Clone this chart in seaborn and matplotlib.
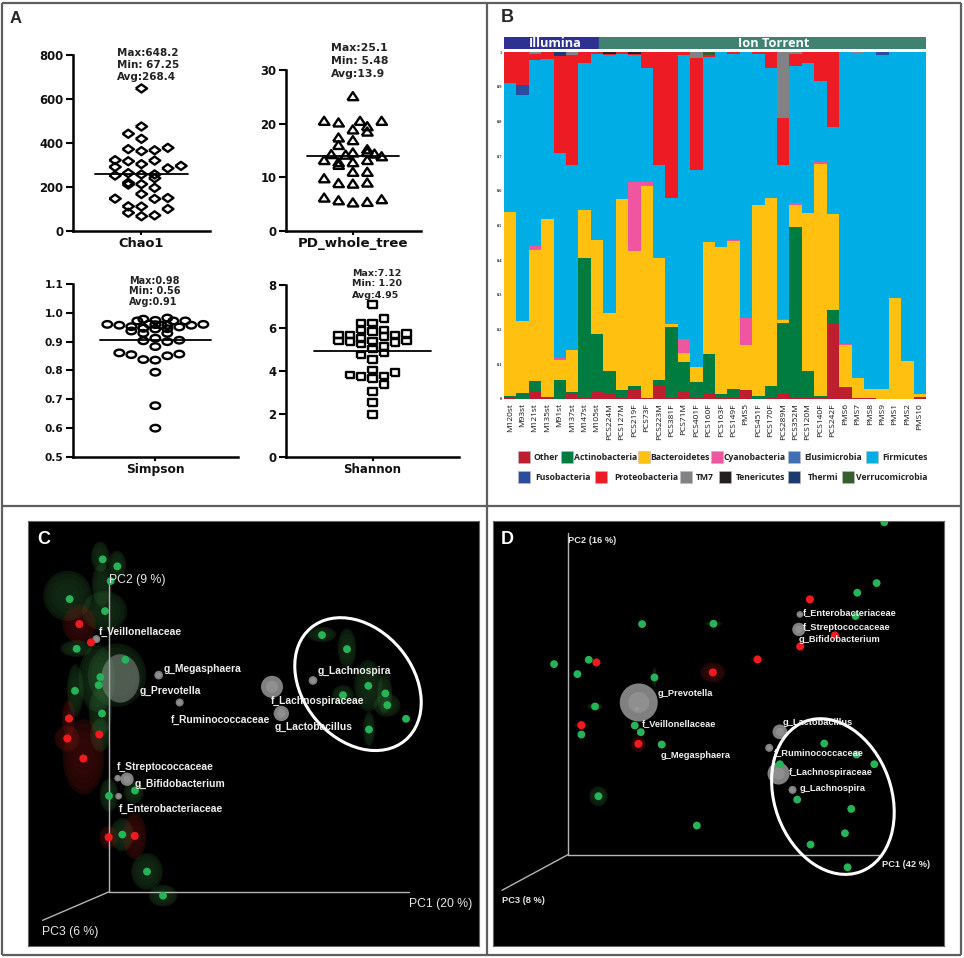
import matplotlib
matplotlib.use('agg')
import numpy as np
import pandas as pd
import matplotlib.pyplot as plt
import seaborn as sns
from matplotlib.patches import Ellipse, Rectangle
from matplotlib.path import Path

W, H = 964, 958

# panel A, diversity indices: column slot and value of each sample
chao_x = [0,0,-1,0,-1,0,1,2,-2,-1,1,0,-2,3,2,-2,-1,0,1,1,-1,-1,0,1,0,-2,1,2,-1,0,2,-1,1,0]
chao_y = [648,475,442,419,372,363,367,378,322,317,320,304,291,296,285,252,263,257,257,240,219,211,213,196,168,147,146,150,112,111,100,83,71,67]
pd_x = [0,-2,-1,.5,2,1,0,1,-1,0,-1,1,-1.5,-.5,0,1,1.5,2,-2,-1,-1,0,1,0,1,-2,-1,0,1,-2,-1,0,1,2]
pd_y = [25.1,20.5,20.2,20.5,20.5,19.5,18.9,18.5,17.4,16.9,16,15.2,14.3,14.2,14.6,14.7,14.4,13.9,13.2,12.8,12.3,12.8,13.2,11,11,9.8,8.9,8.8,9,6.2,5.7,5.3,5.4,5.9]
simpson_x = [1,-1,0,-1.5,1.5,2.5,-4,-3,-2,-1,0,1,3,4,2,-.5,.5,-2,-1,1,-1,0,1,0,-1,1,2,0,-3,-2,-1,0,1,2,0,0,0]
simpson_y = [.982,.978,.974,.972,.972,.972,.960,.957,.952,.947,.959,.957,.957,.960,.951,.961,.957,.937,.929,.929,.947,.944,.945,.912,.903,.900,.905,.883,.861,.855,.838,.836,.851,.857,.794,.678,.600]
shannon_x = [0,1,-1,0,-1,0,1,-3,-2,2,3,1,-3,-2,-1,-1,0,2,3,1,0,1,-1,0,0,-2,-1,0,1,2,1,0,0,0]
shannon_y = [7.10,6.44,6.24,6.23,5.90,5.85,5.90,5.68,5.67,5.68,5.73,5.59,5.40,5.36,5.51,5.25,5.39,5.34,5.40,5.14,5.03,4.83,4.74,4.55,4.04,3.82,3.74,3.65,3.77,3.93,3.37,3.06,2.52,1.99]
index_names = ['Chao1', 'PD_whole_tree', 'Simpson', 'Shannon']
index_means = [261, 13.9, .907, 4.94]
index_stats = [['Max:648.2', 'Min: 67.25', 'Avg:268.4'],
               ['Max:25.1', 'Min: 5.48', 'Avg:13.9'],
               ['Max:0.98', 'Min: 0.56', 'Avg:0.91'],
               ['Max:7.12', 'Min: 1.20', 'Avg:4.95']]

# panel B, relative abundance per sample
samples = ['M120st','M93st','M121st','M135st','M91st','M137st','M147st','M105st','PCS224M','PCS127M',
           'PCS219F','PCS73F','PCS223M','PCS381F','PCS71M','PCS401F','PCS160F','PCS163F','PCS149F','PMS5',
           'PCS451F','PCS170F','PCS289M','PCS352M','PCS120M','PCS140F','PCS242F','PMS6','PMS7','PMS8',
           'PMS9','PMS1','PMS2','PMS10']
other = [.005,0,.023,.005,0,.015,.005,.02,.018,.005,.028,.003,.04,.003,.022,.003,.018,.003,.005,.025,0,.003,.015,.005,.007,.003,.217,.035,.003,.002,0,0,0,.005]
actino = [.005,.018,.03,0,.055,.005,.401,.167,.062,.022,.009,0,.015,.204,.085,.047,.112,.012,.025,0,.008,.034,.205,.492,.073,.005,.04,0,0,0,0,0,0,0]
bacteroid = [.53,.206,.375,.515,.058,.12,.139,.27,.168,.548,.389,.612,.35,.008,.026,.043,.323,.422,.425,.132,.552,.543,.008,.063,.455,.669,.277,.12,.057,.028,.028,.29,.11,.01]
cyano = [0,0,.012,0,.005,0,0,0,0,0,.199,.01,0,0,.039,0,0,0,.003,.077,0,0,.002,.005,0,.005,0,.003,0,0,0,0,0,0]
elusi = [0]*34
firmi = [.371,.652,.537,.46,.592,.533,.422,.536,.742,.42,.365,.33,.268,.365,.818,.567,.532,.563,.537,.766,.435,.373,.445,.395,.433,.233,.249,.842,.935,.97,.962,.71,.89,.985]
fuso = [0,.03,0,0,0,0,0,0,0,0,0,0,0,0,0,0,0,0,0,0,0,0,0,0,0,0,0,0,0,0,.01,0,0,0]
proteo = [.089,.094,.018,.02,.278,.317,.033,.007,.005,.005,.003,.045,.327,.42,.01,.323,.005,0,.005,0,.005,.047,.135,.035,.032,.085,.217,0,0,0,0,0,0,0]
tm7 = [0,0,.005,0,0,.01,0,0,0,0,0,0,0,0,0,.017,0,0,0,0,0,0,.19,.005,0,0,0,0,.005,0,0,0,0,0]
teneri = [0,0,0,0,0,0,0,0,.005,0,.007,0,0,0,0,0,0,0,0,0,0,0,0,0,0,0,0,0,0,0,0,0,0,0]
thermi = [0,0,0,0,.012,0,0,0,0,0,0,0,0,0,0,0,0,0,0,0,0,0,0,0,0,0,0,0,0,0,0,0,0,0]
verruco = [0,0,0,0,0,0,0,0,0,0,0,0,0,0,0,0,.01,0,0,0,0,0,0,0,0,0,0,0,0,0,0,0,0,0]
taxa = ['Other','Actinobacteria','Bacteroidetes','Cyanobacteria','Elusimicrobia','Firmicutes',
        'Fusobacteria','Proteobacteria','TM7','Tenericutes','Thermi','Verrucomicrobia']
taxa_shares = [other, actino, bacteroid, cyano, elusi, firmi, fuso, proteo, tm7, teneri, thermi, verruco]
taxa_colors = ['#be1e2d','#007c41','#ffc00f','#f0559f','#3f6fb5','#00aee6',
               '#2a4da0','#ed1c24','#808285','#231f20','#1b3a6f','#375f2c']
legend_swatch_x = [518,561,638,711,788,866,518,595,680,719,788,842]
legend_text_x = [534,574,650,724,804,882,535,614,696,736,808,856]

# panel C, PCoA screen positions
c_green_x = [307,351,331,208,314,229,375,300,224,295,305,326,404,366,440,488,965,1040,1104,1028,1155,1161,1217,1106]
c_green_y = [163,184,228,282,318,431,464,516,557,540,625,872,856,988,1099,1171,390,432,542,570,565,600,641,673]
c_red_x = [237,272,206,201,249,325,403,297]
c_red_y = [357,412,640,700,760,996,992,688]
c_gray_x = [288,475,538,815,843,938,352,380,355]
c_gray_y = [402,510,592,545,625,526,819,822,873]
c_gray_s = [12,13,12,33,23,13,10,20,10]
c_glow_green = [(300,155,55,90),(350,180,55,85),(305,240,60,130),(202,272,145,150),(313,318,135,120),
                (228,430,95,50),(350,510,175,190),(290,520,110,200),(225,555,50,155),(300,620,70,150),
                (300,690,60,100),(326,870,55,100),(400,860,60,70),(365,988,70,100),(440,1099,95,110),
                (488,1171,85,65),(965,388,85,45),(1040,430,55,120),(1104,542,85,155),(1028,570,65,60),
                (1153,565,45,120),(1160,600,80,70),(1106,672,35,105)]
c_glow_red = [(237,357,100,115),(205,640,40,110),(200,700,75,80),(250,755,125,225),(325,996,55,70),(403,992,70,140)]
c_shell = [(360,520,115,145)]
c_labels = ['f_Veillonellaceae','g_Megasphaera','g_Prevotella','f_Ruminococcaceae','f_Lachnospiraceae',
            'g_Lachnospira','g_Lactobacillus','f_Streptococcaceae','g_Bifidobacterium','f_Enterobacteriaceae']
c_label_x = [295,490,417,513,812,953,824,349,402,355]
c_label_y = [381,491,558,644,588,498,666,784,835,911]
c_axis_labels = ['PC2 (9 %)','PC1 (20 %)','PC3 (6 %)']
c_axis_x = [327,1226,125]
c_axis_y = [225,1196,1280]

# panel D, PCoA screen positions
d_green_x = [1183,1160,1102,1097,457,671,193,297,263,494,316,275,435,453,516,326,621,1003,1100,1153,870,922,1084,1065,962,1073]
d_green_y = [52,234,263,333,357,356,477,464,507,517,604,688,661,681,718,873,961,715,748,777,777,883,911,984,1018,1086]
d_red_x = [960,1035,931,803,320,669,275,446]
d_red_y = [283,391,424,463,472,502,660,716]
d_gray_x = [447,441,930,927,870,838,866,908,514]
d_gray_y = [592,612,328,373,680,728,805,854,718]
d_gray_s = [57,12,10,20,22,12,33,12,10]
d_glow_green = [(326,873,55,60),(671,356,50,14),(316,604,45,20),(494,517,15,60)]
d_glow_red = [(669,502,75,60),(446,716,45,50),(803,463,45,15),(275,660,45,18)]
d_labels = ['g_Prevotella','f_Veillonellaceae','g_Megasphaera','f_Enterobacteriaceae','f_Streptococcaceae',
            'g_Bifidobacterium','g_Lactobacillus','f_Ruminococcaceae','f_Lachnospiraceae','g_Lachnospira']
d_label_x = [503,455,513,940,940,926,877,852,896,930]
d_label_y = [566,655,751,323,366,404,653,742,801,849]
d_axis_labels = ['PC2 (16 %)','PC1 (42 %)','PC3 (8 %)']
d_axis_x = [236,1175,37]
d_axis_y = [106,1078,1185]

sns.set_theme(style='white')
plt.rcParams['font.family'] = ['DejaVu Sans']
plt.rcParams['axes.linewidth'] = 1.8


def px_axes(fig, left, top, right, bottom):
    return fig.add_axes([left / W, 1 - bottom / H, (right - left) / W, (bottom - top) / H])


fig = plt.figure(figsize=(W / 100, H / 100), dpi=100)

# overlay for frame, letters, legend
over = fig.add_axes([0, 0, 1, 1], zorder=5)
over.set_xlim(0, W)
over.set_ylim(H, 0)
over.axis('off')
over.patch.set_alpha(0)
for xs, ys in [((2, 961), (3, 3)), ((2, 961), (506, 506)), ((2, 961), (955, 955)),
               ((2, 2), (3, 955)), ((961, 961), (3, 955)), ((487, 487), (3, 955))]:
    over.plot(xs, ys, color='#5f5f5f', lw=1.6, solid_capstyle='butt')
over.text(10, 18, 'A', fontsize=12, fontweight='bold', va='center', family='Liberation Sans')
over.text(501, 17, 'B', fontsize=13, fontweight='bold', va='center', family='Liberation Sans')

# panel A
ellipse_m = Path.unit_circle().transformed(matplotlib.transforms.Affine2D().scale(1, .68))
diamond_m = [(-1, 0), (0, .72), (1, 0), (0, -.72), (-1, 0)]
tri_m = [(-1, -.72), (0, .78), (1, -.72), (-1, -.72)]
square_m = [(-1, -.8), (1, -.8), (1, .8), (-1, .8), (-1, -.8)]
a_specs = [
    (73, 55, 210, 231, chao_x, chao_y, diamond_m, (-5.19, 5.2), (0, 800), [0, 200, 400, 600, 800], 3.5, 66, '{:.0f}', (117, [53, 65, 77]), 7.5, 9.4),
    (286, 70, 421, 231, pd_x, pd_y, tri_m, (-4.65, 4.74), (0, 30), [0, 10, 20, 30], 3.2, 60, '{:.0f}', (331, [48, 61, 74]), 7.8, 9.6),
    (73, 284, 238, 457, simpson_x, simpson_y, ellipse_m, (-6.86, 6.89), (.5, 1.1), [.5, .6, .7, .8, .9, 1, 1.1], 4.65, 48, '{:.1f}', (129, [281, 291, 302]), 7.0, 8.8),
    (286, 285, 459, 457, shannon_x, shannon_y, square_m, (-7.65, 7.65), (0, 8), [0, 2, 4, 6, 8], 5.15, 36, '{:.0f}', (352, [274, 284, 295]), 6.8, 8.5),
]
for i, (l, t, r, b, xv, yv, mk, xl, yl, yt, half, size, fmt, stat, stat_fs, name_fs) in enumerate(a_specs):
    ax = px_axes(fig, l, t, r, b)
    sns.scatterplot(x=xv, y=yv, marker=mk, s=size, facecolor='none', edgecolor='black', linewidth=1.7,
                    ax=ax, clip_on=False, zorder=3)
    sns.lineplot(x=[-half, half], y=[index_means[i]] * 2, color='black', lw=1.3, ax=ax, errorbar=None)
    ax.set_xlim(*xl)
    ax.set_ylim(*yl)
    ax.set_xticks([0])
    ax.set_xticklabels([index_names[i]], fontsize=name_fs, fontweight='bold')
    ax.set_yticks(yt)
    ax.set_yticklabels([fmt.format(v) for v in yt], fontsize=8.4 if i != 2 else 7.6, fontweight='bold')
    ax.tick_params(axis='y', left=True, length=5, width=1.5, color='black', labelcolor='#111111', pad=2)
    ax.tick_params(axis='x', bottom=True, length=3, width=1.5, color='black', labelcolor='#111111', pad=1)
    ax.patch.set_alpha(0)
    sns.despine(ax=ax)
    for sp in ['left', 'bottom']:
        ax.spines[sp].set_color('black')
    for line, yy in zip(index_stats[i], stat[1]):
        over.text(stat[0], yy, line, fontsize=stat_fs, fontweight='bold', va='center', color='#222222')

# panel B
long_df = pd.DataFrame({
    'sample': samples * len(taxa),
    'taxon': np.repeat(taxa, len(samples)),
    'share': np.concatenate(taxa_shares),
})
ax = px_axes(fig, 504, 52, 926, 399)
sns.histplot(data=long_df, x='sample', weights='share', hue='taxon', hue_order=taxa[::-1],
             palette=dict(zip(taxa, taxa_colors)), multiple='stack', discrete=True, shrink=1,
             edgecolor='none', alpha=1, legend=False, ax=ax)
ax.set_xlim(-.5, 33.5)
ax.set_ylim(0, 1)
ax.set_xlabel('')
ax.set_ylabel('')
ax.set_yticks(np.arange(0, 1.01, .1))
ax.set_yticklabels(['0', '0.1', '0.2', '0.3', '0.4', '0.5', '0.6', '0.7', '0.8', '0.9', '1'],
                   fontsize=3.2, fontweight='bold', family='Liberation Serif')
ax.set_xticks(range(34))
ax.set_xticklabels(samples, rotation=90, fontsize=6.0, family='Open Sans', color='#111111')
ax.tick_params(length=0, pad=1.5)
ax.tick_params(axis='x', pad=3)
sns.despine(ax=ax, left=True, bottom=True)

# sequencing platform header
head = px_axes(fig, 504, 37, 926, 49)
head.set_xlim(-.5, 33.5)
head.set_ylim(0, 1)
head.axis('off')
head.add_patch(Rectangle((-.5, 0), 7.66, 1, color='#2e3192'))
head.add_patch(Rectangle((7.16, 0), 26.34, 1, color='#3f8271'))
head.text(3.6, .47, 'Illumina', color='white', ha='center', va='center', fontsize=9.2, family='Open Sans', fontweight='bold')
head.text(21.2, .47, 'Ion Torrent', color='white', ha='center', va='center', fontsize=9.2, family='Open Sans', fontweight='bold')

for i, name in enumerate(taxa):
    yy = 457 if i < 6 else 477
    over.add_patch(Rectangle((legend_swatch_x[i], yy - 6), 12, 12, facecolor=taxa_colors[i], edgecolor='#bbbbbb', lw=.4))
    over.text(legend_text_x[i], yy, name, fontsize=6.2, fontweight='bold', va='center', color='#222222', family='Open Sans')


# panels C and D
def pcoa_panel(left, right, xlim, letter, letter_xy, origin, ends, glow_g, glow_r, shells,
               gx, gy, rx, ry, wx, wy, ws, labels, lx, ly, axis_labels, ax_x, ax_y, ring, fs, axis_fs, axis_weight):
    ax = px_axes(fig, left, 521, right, 946)
    ax.set_facecolor('black')
    ax.set_xlim(*xlim)
    ax.set_ylim(1322, 48)
    ax.set_xticks([])
    ax.set_yticks([])
    for sp in ax.spines.values():
        sp.set_color('#666666')
        sp.set_linewidth(.8)
    for glows, col in [(glow_g, '#3f8f45'), (glow_r, '#a8201a')]:
        for x0, y0, w, h in glows:
            for scale, a in [(1, .16), (.88, .07), (.7, .05), (.5, .04)]:
                ax.add_patch(Ellipse((x0, y0), w * scale, h * scale, facecolor=col, edgecolor='none', alpha=a, zorder=1))
    for ex, ey in ends:
        sns.lineplot(x=[origin[0], ex], y=[origin[1], ey], color='#b5b5b5', lw=1, ax=ax, zorder=2,
                     errorbar=None, sort=False, estimator=None)
    ax.set_xlabel('')
    ax.set_ylabel('')
    for x0, y0, w, h in shells:
        ax.add_patch(Ellipse((x0, y0), w, h, facecolor='#a8a8a8', edgecolor='none', alpha=.42, zorder=3))
    for x0, y0, r0 in zip(wx, wy, ws):
        ax.add_patch(Ellipse((x0, y0), 2 * r0, 2 * r0, facecolor='#8f8f8f', edgecolor='none', alpha=.9, zorder=3))
        ax.add_patch(Ellipse((x0, y0), 1.1 * r0, 1.1 * r0, facecolor='#a8a8a8', edgecolor='none', alpha=.4, zorder=3))
    sns.scatterplot(x=gx, y=gy, color='#25b457', s=32, edgecolor='none', ax=ax, zorder=4)
    sns.scatterplot(x=rx, y=ry, color='#f01a1f', s=34, edgecolor='none', ax=ax, zorder=4)
    ax.set_xlim(*xlim)
    ax.set_ylim(1322, 48)
    ax.add_patch(Ellipse(ring[:2], ring[2], ring[3], angle=ring[4], facecolor='none', edgecolor='white', lw=2.2, zorder=6))
    for name, x0, y0 in zip(labels, lx, ly):
        ax.text(x0, y0, name, color='#f0f0f0', fontsize=fs, fontweight='bold', va='center', zorder=7,
                family='Liberation Sans')
    for name, x0, y0 in zip(axis_labels, ax_x, ax_y):
        ax.text(x0, y0, name, color='#e8e8e8', fontsize=axis_fs, fontweight=axis_weight, va='center', zorder=7,
                family='Liberation Sans')
    ax.text(letter_xy[0], letter_xy[1], letter, color='white', fontsize=13, fontweight='bold', va='center', zorder=7,
            family='Liberation Sans')


pcoa_panel(28, 479, (83, 1436), 'C', (110, 103), (325, 1160), [(325, 230), (1226, 1160), (127, 1245)],
           c_glow_green, c_glow_red, c_shell, c_green_x, c_green_y, c_red_x, c_red_y, c_gray_x, c_gray_y, c_gray_s,
           c_labels, c_label_x, c_label_y, c_axis_labels, c_axis_x, c_axis_y, (1073, 537, 440, 330, 50), 7.4, 8.8, 'normal')
pcoa_panel(493, 944, (10, 1362), 'D', (32, 103), (235, 1048), [(235, 85), (1170, 1048), (37, 1155)],
           d_glow_green, d_glow_red, [], d_green_x, d_green_y, d_red_x, d_red_y, d_gray_x, d_gray_y, d_gray_s,
           d_labels, d_label_x, d_label_y, d_axis_labels, d_axis_x, d_axis_y, (1029, 874, 480, 350, 70), 6.7, 6.7, 'bold')

fig.savefig('out.png', dpi=100, facecolor='white')
